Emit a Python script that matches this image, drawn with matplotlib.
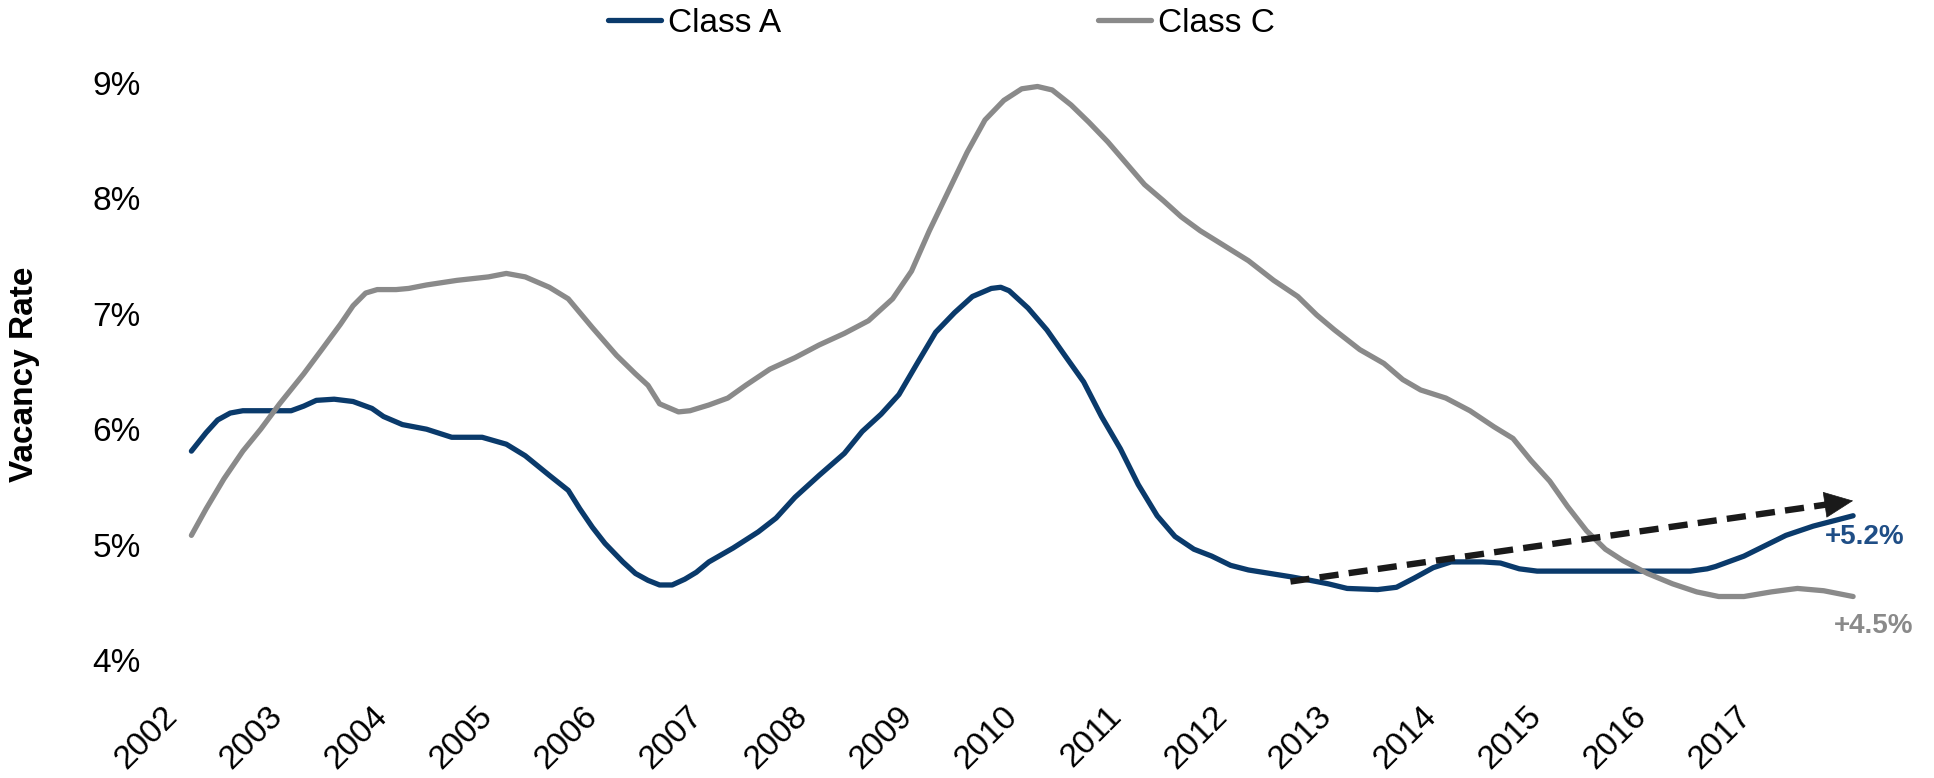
import matplotlib
matplotlib.use("Agg")
import matplotlib.pyplot as plt

plt.rcParams["font.family"] = ["Liberation Sans", "DejaVu Sans"]

# Class A vacancy (decimal year, %)
class_a_x = [2002.00, 2002.14, 2002.25, 2002.37, 2002.49, 2002.95, 2003.07, 2003.19,
             2003.36, 2003.54, 2003.72, 2003.83, 2004.01, 2004.24, 2004.48, 2004.77,
             2005.00, 2005.18, 2005.41, 2005.59, 2005.70, 2005.82, 2005.94, 2006.11,
             2006.23, 2006.35, 2006.46, 2006.58, 2006.70, 2006.81, 2006.93, 2007.16,
             2007.40, 2007.57, 2007.75, 2007.98, 2008.22, 2008.39, 2008.57, 2008.74,
             2008.92, 2009.09, 2009.27, 2009.44, 2009.62, 2009.71, 2009.79, 2009.97,
             2010.15, 2010.32, 2010.50, 2010.67, 2010.85, 2011.02, 2011.20, 2011.37,
             2011.55, 2011.72, 2011.90, 2012.07, 2012.48, 2012.66, 2012.83, 2013.01,
             2013.30, 2013.48, 2013.65, 2013.83, 2014.00, 2014.30, 2014.47, 2014.65,
             2014.82, 2016.28, 2016.44, 2016.52, 2016.79, 2017.19, 2017.45, 2017.83]
class_a_y = [5.81, 5.97, 6.08, 6.14, 6.16, 6.16, 6.20, 6.25,
             6.26, 6.24, 6.18, 6.11, 6.04, 6.00, 5.93, 5.93,
             5.87, 5.77, 5.60, 5.47, 5.31, 5.15, 5.01, 4.85,
             4.75, 4.69, 4.65, 4.65, 4.70, 4.76, 4.85, 4.97,
             5.11, 5.23, 5.41, 5.60, 5.79, 5.98, 6.13, 6.30,
             6.58, 6.84, 7.01, 7.15, 7.22, 7.23, 7.20, 7.05,
             6.86, 6.64, 6.41, 6.11, 5.83, 5.52, 5.25, 5.07,
             4.96, 4.90, 4.82, 4.78, 4.72, 4.69, 4.66, 4.62,
             4.61, 4.63, 4.71, 4.80, 4.85, 4.85, 4.84, 4.79,
             4.77, 4.77, 4.79, 4.81, 4.90, 5.08, 5.16, 5.25]

# Class C vacancy (decimal year, %)
class_c_x = [2002.00, 2002.14, 2002.31, 2002.49, 2002.66, 2002.84, 2003.07, 2003.25,
             2003.42, 2003.54, 2003.66, 2003.77, 2003.95, 2004.07, 2004.24, 2004.53,
             2004.83, 2005.00, 2005.18, 2005.41, 2005.59, 2005.82, 2006.05, 2006.23,
             2006.35, 2006.46, 2006.64, 2006.75, 2006.93, 2007.11, 2007.28, 2007.51,
             2007.75, 2007.98, 2008.22, 2008.45, 2008.68, 2008.86, 2009.03, 2009.21,
             2009.39, 2009.56, 2009.74, 2009.91, 2010.06, 2010.20, 2010.38, 2010.55,
             2010.73, 2010.91, 2011.08, 2011.26, 2011.43, 2011.61, 2011.84, 2012.07,
             2012.31, 2012.54, 2012.72, 2012.89, 2013.13, 2013.36, 2013.54, 2013.71,
             2013.95, 2014.18, 2014.41, 2014.59, 2014.76, 2014.94, 2015.11, 2015.29,
             2015.47, 2015.64, 2015.87, 2016.11, 2016.34, 2016.55, 2016.79, 2017.05,
             2017.30, 2017.55, 2017.83]
class_c_y = [5.08, 5.31, 5.57, 5.81, 6.00, 6.22, 6.48, 6.70,
             6.91, 7.07, 7.18, 7.21, 7.21, 7.22, 7.25, 7.29,
             7.32, 7.35, 7.32, 7.23, 7.13, 6.88, 6.64, 6.48,
             6.38, 6.22, 6.15, 6.16, 6.21, 6.27, 6.38, 6.52,
             6.62, 6.73, 6.83, 6.94, 7.13, 7.37, 7.72, 8.06,
             8.40, 8.68, 8.85, 8.95, 8.97, 8.94, 8.81, 8.66,
             8.49, 8.30, 8.12, 7.98, 7.84, 7.72, 7.59, 7.46,
             7.29, 7.15, 6.99, 6.86, 6.69, 6.57, 6.43, 6.34,
             6.27, 6.16, 6.02, 5.92, 5.73, 5.55, 5.33, 5.12,
             4.96, 4.86, 4.75, 4.66, 4.59, 4.55, 4.55, 4.59,
             4.62, 4.60, 4.55]

years = list(range(2002, 2018))
yticks = [4, 5, 6, 7, 8, 9]

# trend arrow (start, end) and end labels
trend_start = (2012.47, 4.68)
trend_end = (2017.83, 5.38)
label_a = "+5.2%"
label_c = "+4.5%"

navy = "#0A3A6B"
grey = "#8A8A8A"
dark = "#1A1A1A"

fig = plt.figure(figsize=(19.34, 7.78), dpi=100)
ax = fig.add_axes([0.0892, 0.1517, 0.8782, 0.7564])

ax.plot(class_a_x, class_a_y, color=navy, lw=3.8, label="Class A", solid_capstyle="round")
ax.plot(class_c_x, class_c_y, color=grey, lw=3.8, label="Class C", solid_capstyle="round")

# dashed shaft up to the arrow head, then a solid head
f = 0.955
head_base = (trend_start[0] + f * (trend_end[0] - trend_start[0]),
             trend_start[1] + f * (trend_end[1] - trend_start[1]))
ax.plot([trend_start[0], head_base[0]], [trend_start[1], head_base[1]],
        color=dark, lw=4.6, dashes=(3.0, 1.6), dash_capstyle="butt")
ax.annotate("", xy=trend_end, xytext=head_base,
            arrowprops=dict(arrowstyle="-|>,head_length=1.1,head_width=0.5",
                            lw=0.5, color=dark, mutation_scale=18,
                            shrinkA=0, shrinkB=0))

ax.annotate(label_a, xy=(class_a_x[-1], class_a_y[-1]), xytext=(-20, -15),
            textcoords="offset points", ha="left", va="center",
            fontsize=20, fontweight="bold", color="#1F4E86")
ax.annotate(label_c, xy=(class_c_x[-1], class_c_y[-1]), xytext=(-14, -21.5),
            textcoords="offset points", ha="left", va="center",
            fontsize=20, fontweight="bold", color=grey)

ax.set_xlim(2001.9, 2018.0)
ax.set_ylim(4, 9.1)
ax.set_yticks(yticks)
ax.set_yticklabels([f"{v}%" for v in yticks])
ax.set_xticks([y - 0.18 for y in years])
ax.set_xticklabels([str(y) for y in years], rotation=45, ha="right",
                   va="center", rotation_mode="anchor")
ax.tick_params(axis="y", length=0, pad=22.7, labelsize=24)
ax.tick_params(axis="x", length=0, pad=37, labelsize=24)
for s in ax.spines.values():
    s.set_visible(False)

fig.text(0.0129, 0.519, "Vacancy Rate", rotation=90, ha="center", va="center",
         fontsize=24, fontweight="bold")

fig.legend(loc="center", bbox_to_anchor=(0.4868, 0.970), ncol=2, frameon=False,
           fontsize=24, handlelength=1.6, handletextpad=0.2, columnspacing=9.5)

fig.savefig("out.png", dpi=100)
